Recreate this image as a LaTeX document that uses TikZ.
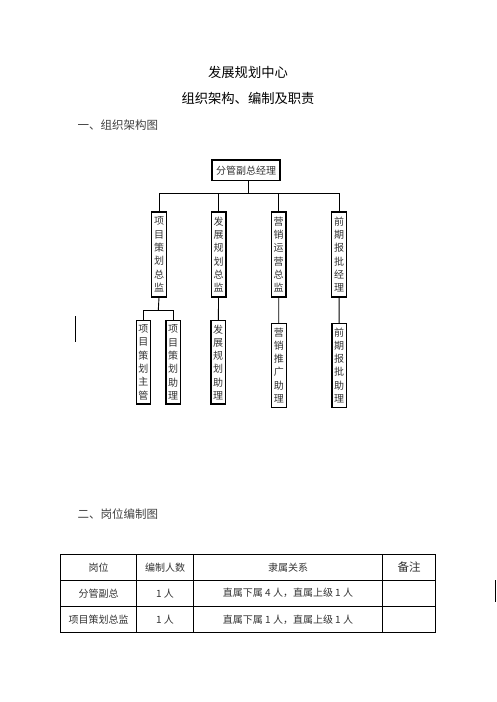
\documentclass[tikz,border=0pt]{standalone}
\usepackage{fontspec}
\setmainfont{Noto Sans CJK SC}
\tikzset{
    postbox/.style={draw, line width=1.1pt, inner sep=2pt, text=black!80, font=\fontsize{10pt}{13.3pt}\selectfont, align=center},
    colbox/.style={postbox, minimum width=14.5pt, inner xsep=1pt},
    heading/.style={font=\fontsize{13.3pt}{16pt}\selectfont},
    section/.style={font=\fontsize{11.5pt}{14pt}\selectfont, text=black!75, anchor=west},
    cell/.style={font=\fontsize{10pt}{12pt}\selectfont, text=black!80}
}
\begin{document}
\begin{tikzpicture}[x=1pt, y=-1pt]
    \useasboundingbox[fill=white] (0,0) rectangle (496,702);

    % Titles
    \node[heading] (title) at (248,72) {发展规划中心};
    \node[heading] (subtitle) at (248,98.5) {组织架构、编制及职责};
    \node[section] (sec_1) at (74,125) {一、组织架构图};
    \node[section] (sec_2) at (74,514) {二、岗位编制图};

    % First rank with the deputy general manager
    \node[postbox, minimum width=68pt, minimum height=20.7pt] (mgr) at (246,170.3) {分管副总经理};

    % Second rank with four directors
    \node[colbox, minimum height=85pt] (dir_1) at (159,254.5) {项\\目\\策\\划\\总\\监};
    \node[colbox, minimum height=85pt] (dir_2) at (218.7,254.5) {发\\展\\规\\划\\总\\监};
    \node[colbox, minimum height=85pt] (dir_3) at (278.7,254.5) {营\\销\\运\\营\\总\\监};
    \node[colbox, minimum height=85pt] (dir_4) at (339,254.5) {前\\期\\报\\批\\经\\理};

    % Third rank with five staff posts
    \node[colbox, minimum height=83.3pt] (staff_1) at (143.3,362.3) {项\\目\\策\\划\\主\\管};
    \node[colbox, minimum height=83.3pt] (staff_2) at (173.2,362.3) {项\\目\\策\\划\\助\\理};
    \node[colbox, minimum height=83.3pt] (staff_3) at (218.2,362.3) {发\\展\\规\\划\\助\\理};
    \node[colbox, minimum height=84pt] (staff_4) at (278.8,365.3) {营\\销\\推\\广\\助\\理};
    \node[colbox, minimum height=84pt] (staff_5) at (339.2,365.3) {前\\期\\报\\批\\助\\理};

    % Bus points
    \coordinate (bus) at (248.3,193.3);
    \coordinate (bus_top) at (248.3,180.7);
    \coordinate (sub) at (158.3,310);

    % Connections
    \draw[line width=0.9pt] (bus_top) -- (bus);
    \draw[line width=0.9pt] (bus) -| (dir_1.north);
    \draw[line width=0.9pt] (bus) -| (dir_2.north);
    \draw[line width=0.9pt] (bus) -| (dir_3.north);
    \draw[line width=0.9pt] (bus) -| (dir_4.north);

    \draw[line width=0.9pt] (dir_1.south) -- (sub);
    \draw[line width=0.9pt] (sub) -| (staff_1.north);
    \draw[line width=0.9pt] (sub) -| (staff_2.north);

    \draw[line width=0.9pt] (dir_2) -- (staff_3);
    \draw[line width=0.9pt] (dir_3) -- (staff_4);
    \draw[line width=0.9pt] (dir_4) -- (staff_5);

    % Stray marks
    \draw[line width=1pt] (75,316) -- (75,342.3);
    \draw[line width=1pt] (495,580) -- (495,601.7);

    % Table frame
    \draw[line width=0.8pt] (60.7,554.3) rectangle (435.7,632.7);
    \draw[line width=0.8pt] (60.7,580) -- (435.7,580);
    \draw[line width=0.8pt] (60.7,606.7) -- (435.7,606.7);
    \draw[line width=0.8pt] (136.7,554.3) -- (136.7,632.7);
    \draw[line width=0.8pt] (193.3,554.3) -- (193.3,632.7);
    \draw[line width=0.8pt] (382.7,554.3) -- (382.7,632.7);

    % Table header
    \node[cell] (h_post) at (98.7,567.3) {岗位};
    \node[cell] (h_num) at (165,567.3) {编制人数};
    \node[cell] (h_rel) at (288,567.3) {隶属关系};
    \node[cell, font=\fontsize{11.5pt}{14pt}\selectfont] (h_note) at (409,567.3) {备注};

    % Table rows
    \node[cell] (r1_post) at (98.7,593.3) {分管副总};
    \node[cell] (r1_num) at (165,593.3) {1 人};
    \node[cell] (r1_rel) at (288,593.3) {直属下属 4 人，直属上级 1 人};
    \node[cell] (r2_post) at (98.7,620) {项目策划总监};
    \node[cell] (r2_num) at (165,620) {1 人};
    \node[cell] (r2_rel) at (288,620) {直属下属 1 人，直属上级 1 人};
\end{tikzpicture}
\end{document}
